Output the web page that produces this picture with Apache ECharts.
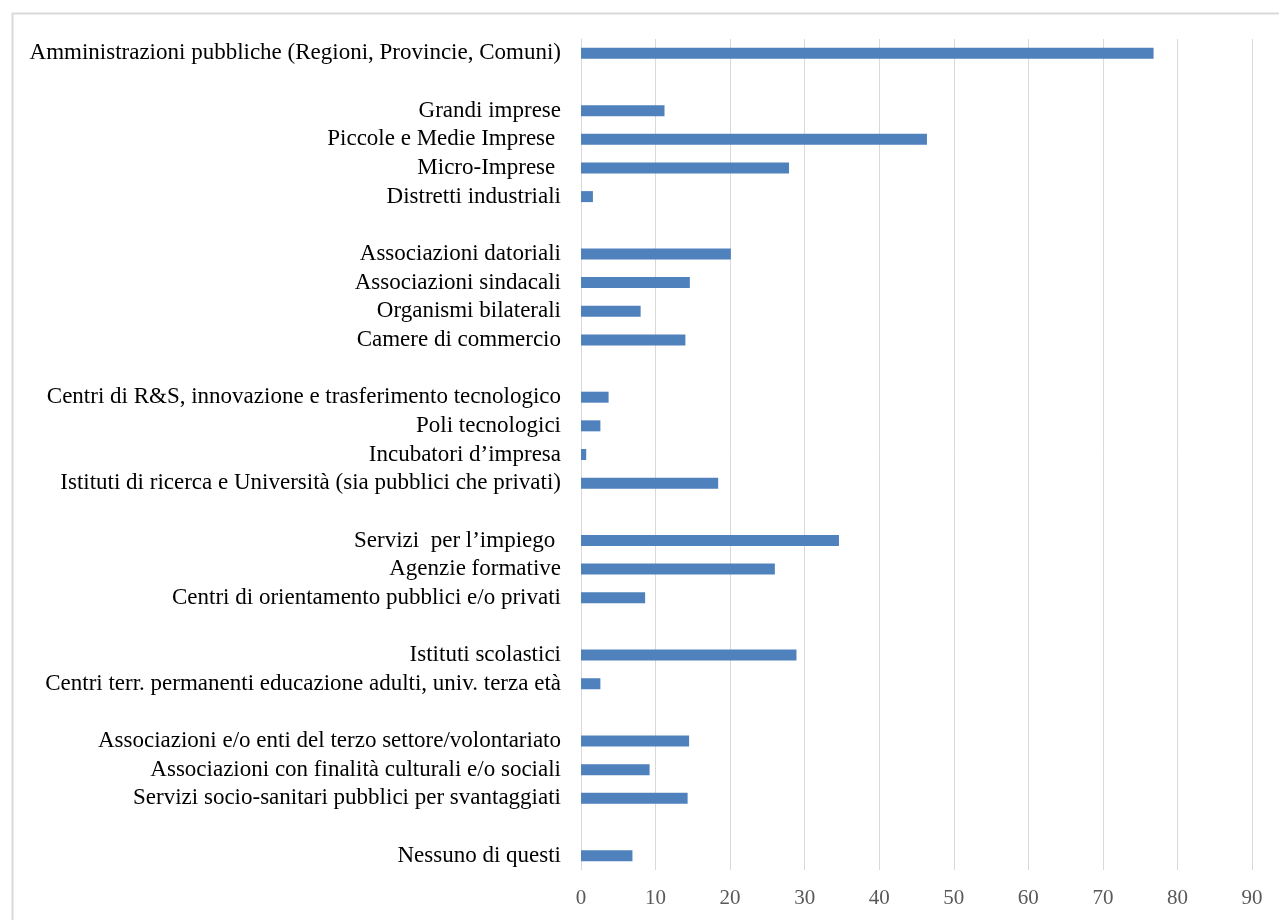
<!DOCTYPE html>
<html>
<head>
<meta charset="utf-8">
<script src="https://cdn.jsdelivr.net/npm/echarts@6/dist/echarts.min.js"></script>
<style>
  html, body { margin: 0; padding: 0; background: #fff; }
  #main { width: 1279px; height: 920px; }
</style>
</head>
<body>
<div id="main"></div>
<script>
// categories top to bottom; blank entries are the spacer rows between groups
const categories = [
  'Amministrazioni pubbliche (Regioni, Provincie, Comuni)',
  ' ',
  'Grandi imprese',
  'Piccole e Medie Imprese ',
  'Micro-Imprese ',
  'Distretti industriali',
  '  ',
  'Associazioni datoriali',
  'Associazioni sindacali',
  'Organismi bilaterali',
  'Camere di commercio',
  '   ',
  'Centri di R&S, innovazione e trasferimento tecnologico',
  'Poli tecnologici',
  'Incubatori d’impresa',
  'Istituti di ricerca e Università (sia pubblici che privati)',
  '    ',
  'Servizi  per l’impiego ',
  'Agenzie formative',
  'Centri di orientamento pubblici e/o privati',
  '     ',
  'Istituti scolastici',
  'Centri terr. permanenti educazione adulti, univ. terza età',
  '      ',
  'Associazioni e/o enti del terzo settore/volontariato',
  'Associazioni con finalità culturali e/o sociali',
  'Servizi socio-sanitari pubblici per svantaggiati',
  '       ',
  'Nessuno di questi'
];

const values = [
  76.8,
  null,
  11.2, 46.4, 27.9, 1.6,
  null,
  20.1, 14.6, 8.0, 14.0,
  null,
  3.7, 2.6, 0.7, 18.4,
  null,
  34.6, 26.0, 8.6,
  null,
  28.9, 2.6,
  null,
  14.5, 9.2, 14.3,
  null,
  6.9
];

const xTicks = [0, 10, 20, 30, 40, 50, 60, 70, 80, 90];

var chartDom = document.getElementById('main');
var myChart = echarts.init(chartDom);
var option;

option = {
  backgroundColor: '#fff',
  animation: false,
  graphic: [
    {
      type: 'rect',
      left: 10,
      top: 11,
      shape: { width: 1320, height: 960 },
      style: { fill: 'none', stroke: '#d9d9d9', lineWidth: 2 },
      silent: true
    }
  ],
  grid: {
    left: 581,
    right: 27,
    top: 39,
    bottom: 50,
    containLabel: false
  },
  xAxis: {
    type: 'value',
    min: xTicks[0],
    max: xTicks[xTicks.length - 1],
    interval: 10,
    axisLine: { show: false },
    axisTick: { show: false },
    axisLabel: {
      margin: 18,
      color: '#595959',
      fontFamily: 'Liberation Serif',
      fontSize: 21
    },
    splitLine: {
      show: true,
      lineStyle: { color: '#d9d9d9', width: 1 }
    }
  },
  yAxis: {
    type: 'category',
    inverse: true,
    data: categories,
    axisLine: { show: true, lineStyle: { color: '#d9d9d9', width: 1 } },
    axisTick: { show: false },
    axisLabel: {
      margin: 20,
      interval: 0,
      color: '#000',
      fontFamily: 'Liberation Serif',
      fontSize: 23
    },
    splitLine: { show: false }
  },
  series: [
    {
      type: 'bar',
      data: values,
      barWidth: 11,
      itemStyle: {
        color: '#4f81bd'
      }
    }
  ]
};

option && myChart.setOption(option);
</script>
</body>
</html>
